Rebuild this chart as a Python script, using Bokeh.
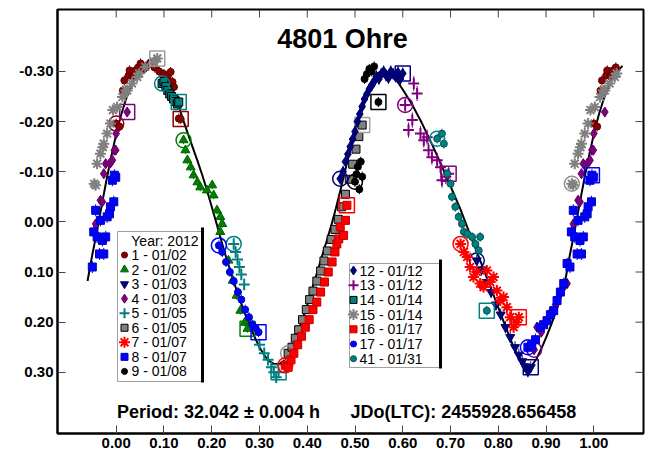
from bokeh.plotting import figure
from bokeh.models import Range1d, LinearAxis, FixedTicker, Label
from bokeh.embed import file_html
from bokeh.resources import INLINE

# ---------------- data ----------------
title_text = "4801 Ohre"
period_text = "Period: 32.042 \u00b1 0.004 h"
epoch_text = "JDo(LTC): 2455928.656458"
year_text = "Year: 2012"

x_ticks = [0.0, 0.1, 0.2, 0.3, 0.4, 0.5, 0.6, 0.7, 0.8, 0.9, 1.0]
x_tick_labels = ["0.00", "0.10", "0.20", "0.30", "0.40", "0.50", "0.60", "0.70", "0.80", "0.90", "1.00"]
y_ticks = [-0.3, -0.2, -0.1, 0.0, 0.1, 0.2, 0.3]
y_tick_labels = ["-0.30", "-0.20", "-0.10", "0.00", "0.10", "0.20", "0.30"]

session_ids = [1, 2, 3, 4, 5, 6, 7, 8, 9, 12, 13, 14, 15, 16, 17, 41]
session_dates = ["01/02", "01/02", "01/03", "01/03", "01/05", "01/05", "01/07", "01/07", "01/08",
                 "01/12", "01/12", "01/14", "01/14", "01/17", "01/17", "01/31"]
session_err = [0.010, 0.008, 0.012, 0.010, 0.012, 0.008, 0.010, 0.012, 0.010,
               0.012, 0.015, 0.010, 0.008, 0.008, 0.010, 0.010]

s1_phase = [0.000, 0.007, 0.014, 0.017, 0.019, 0.026, 0.028, 0.035, 0.040, 0.046, 0.051, 0.058, 0.065, 0.072,
            0.080, 0.090, 0.100, 0.108, 0.114, 0.118, 0.121, 0.126, 0.131, 0.135]
s1_mag = [-0.196, -0.190, -0.262, -0.282, -0.259, -0.292, -0.302, -0.290, -0.302, -0.308, -0.316, -0.305, -0.312,
          -0.318, -0.308, -0.300, -0.295, -0.290, -0.299, -0.279, -0.269, -0.245, -0.206, -0.205]

s2_phase = [0.141, 0.145, 0.149, 0.156, 0.162, 0.170, 0.176, 0.190, 0.201, 0.204, 0.211, 0.218, 0.222, 0.218,
            0.235, 0.244, 0.252, 0.260, 0.269, 0.275]
s2_mag = [-0.163, -0.143, -0.123, -0.109, -0.093, -0.079, -0.069, -0.063, -0.073, -0.053, -0.023, -0.010, 0.004,
          0.020, 0.077, 0.117, 0.147, 0.177, 0.201, 0.213]

s3_phase = [0.755, 0.765, 0.775, 0.785, 0.795, 0.805, 0.815, 0.825, 0.835, 0.843, 0.850, 0.856, 0.862, 0.868]
s3_mag = [0.077, 0.095, 0.120, 0.140, 0.165, 0.185, 0.210, 0.230, 0.250, 0.265, 0.278, 0.288, 0.298, 0.290]

s4_phase = [0.875, 0.881, 0.890, 0.900, 0.910, 0.920, 0.930, 0.937, 0.944, 0.957, 0.960, 0.967, 0.971, 0.974,
            0.978, 0.986, 0.989, 0.992, 0.996, 0.999, 0.000, 0.023]
s4_mag = [0.255, 0.210, 0.220, 0.200, 0.180, 0.165, 0.140, 0.130, 0.123, 0.004, 0.027, -0.043, -0.040, -0.096,
          -0.116, -0.116, -0.119, -0.123, -0.143, -0.143, -0.176, -0.219]

s5_phase = [0.246, 0.250, 0.254, 0.258, 0.262, 0.268, 0.300, 0.310, 0.318, 0.325, 0.330, 0.335, 0.340]
s5_mag = [0.044, 0.060, 0.075, 0.090, 0.105, 0.125, 0.245, 0.262, 0.275, 0.290, 0.300, 0.310, 0.300]

s6_phase = [0.360, 0.368, 0.375, 0.382, 0.390, 0.398, 0.405, 0.412, 0.420, 0.428, 0.435, 0.442, 0.450, 0.458,
            0.465, 0.472, 0.480, 0.488, 0.495, 0.502, 0.508, 0.515]
s6_mag = [0.262, 0.250, 0.232, 0.215, 0.195, 0.175, 0.155, 0.138, 0.118, 0.098, 0.078, 0.058, 0.035, 0.015,
          -0.005, -0.030, -0.055, -0.085, -0.115, -0.145, -0.170, -0.193]

s7_phase = [0.721, 0.728, 0.735, 0.741, 0.748, 0.755, 0.762, 0.769, 0.776, 0.783, 0.790, 0.797, 0.804, 0.811,
            0.818, 0.825, 0.832, 0.838, 0.843]
s7_mag = [0.044, 0.060, 0.070, 0.090, 0.110, 0.100, 0.123, 0.130, 0.097, 0.120, 0.110, 0.137, 0.157, 0.150,
          0.170, 0.190, 0.210, 0.200, 0.190]

s8_phase = [0.862, 0.870, 0.878, 0.888, 0.895, 0.902, 0.909, 0.916, 0.923, 0.930, 0.937, 0.944, 0.950, 0.953,
            0.957, 0.960, 0.965, 0.967, 0.971, 0.974, 0.978, 0.981, 0.986, 0.988, 0.992, 0.995, 0.999, 0.996]
s8_mag = [0.250, 0.245, 0.235, 0.210, 0.205, 0.197, 0.185, 0.177, 0.157, 0.140, 0.123, 0.083, 0.090, 0.020,
          -0.023, 0.030, 0.064, -0.003, 0.037, 0.064, 0.030, -0.010, -0.016, -0.030, -0.083, -0.040, -0.089, -0.093]

s9_phase = [0.500, 0.503, 0.506, 0.509, 0.512, 0.515, 0.520, 0.525, 0.530, 0.535, 0.540, 0.549]
s9_mag = [-0.080, -0.095, -0.110, -0.065, -0.120, -0.090, -0.285, -0.295, -0.305, -0.300, -0.310, -0.239]

s12_phase = [0.469, 0.475, 0.480, 0.485, 0.490, 0.495, 0.500, 0.505, 0.510, 0.515, 0.520, 0.525, 0.530, 0.535,
             0.540, 0.545, 0.550, 0.555, 0.560, 0.565, 0.570, 0.575, 0.580, 0.585, 0.590, 0.595, 0.600]
s12_mag = [-0.086, -0.100, -0.120, -0.135, -0.150, -0.165, -0.180, -0.200, -0.215, -0.230, -0.245, -0.255, -0.265,
           -0.272, -0.280, -0.290, -0.285, -0.295, -0.300, -0.292, -0.287, -0.300, -0.295, -0.290, -0.298, -0.285,
           -0.296]

s13_phase = [0.605, 0.612, 0.620, 0.623, 0.630, 0.637, 0.644, 0.651, 0.654, 0.661, 0.672, 0.679, 0.682, 0.690, 0.696]
s13_mag = [-0.233, -0.183, -0.203, -0.276, -0.256, -0.176, -0.163, -0.169, -0.143, -0.129, -0.123, -0.109, -0.083,
           -0.090, -0.096]

s14_phase = [0.096, 0.100, 0.104, 0.108, 0.112, 0.116, 0.120, 0.124, 0.128, 0.131]
s14_mag = [-0.276, -0.280, -0.270, -0.262, -0.255, -0.250, -0.245, -0.240, -0.235, -0.239]

s15_phase = [0.954, 0.957, 0.960, 0.967, 0.972, 0.974, 0.981, 0.988, 0.993, 0.002, 0.013, 0.020, 0.023, 0.033,
             0.044, 0.048, 0.061, 0.079, 0.086]
s15_mag = [-0.076, -0.073, -0.116, -0.136, -0.149, -0.156, -0.176, -0.196, -0.223, -0.229, -0.249, -0.262, -0.262,
           -0.276, -0.289, -0.296, -0.309, -0.319, -0.326]

s16_phase = [0.354, 0.360, 0.366, 0.372, 0.380, 0.388, 0.396, 0.404, 0.412, 0.420, 0.428, 0.436, 0.444, 0.452,
             0.458, 0.462, 0.466, 0.469, 0.476, 0.480, 0.483]
s16_mag = [0.286, 0.290, 0.275, 0.262, 0.245, 0.228, 0.210, 0.195, 0.175, 0.160, 0.140, 0.120, 0.100, 0.080,
           0.060, 0.044, 0.034, 0.010, 0.027, -0.003, -0.033]

s17_phase = [0.215, 0.222, 0.230, 0.238, 0.246, 0.255, 0.262, 0.270, 0.278, 0.285, 0.292, 0.298]
s17_mag = [0.047, 0.060, 0.080, 0.100, 0.118, 0.140, 0.155, 0.175, 0.190, 0.205, 0.212, 0.220]

s41_phase = [0.672, 0.682, 0.686, 0.693, 0.700, 0.703, 0.710, 0.717, 0.724, 0.728, 0.735, 0.745, 0.752, 0.759,
             0.762, 0.776]
s41_mag = [-0.166, -0.176, -0.156, -0.096, -0.076, -0.050, -0.030, -0.010, 0.004, 0.020, 0.024, 0.030, 0.044,
           0.057, 0.030, 0.177]

fit_phase = [-0.06, -0.05, -0.04, -0.03, -0.02, -0.01, 0.00, 0.01, 0.02, 0.03, 0.04, 0.05, 0.06, 0.07, 0.08, 0.09,
             0.10, 0.11, 0.12, 0.13, 0.14, 0.15, 0.16, 0.17, 0.18, 0.19, 0.20, 0.21, 0.22, 0.23, 0.24, 0.25, 0.26,
             0.27, 0.28, 0.29, 0.30, 0.31, 0.32, 0.33, 0.34, 0.35, 0.36, 0.37, 0.38, 0.39, 0.40, 0.41, 0.42, 0.43,
             0.44, 0.45, 0.46, 0.47, 0.48, 0.49, 0.50, 0.51, 0.52, 0.53, 0.54, 0.55, 0.56, 0.57, 0.58, 0.59, 0.60,
             0.62, 0.64, 0.66, 0.68, 0.70, 0.72, 0.74, 0.76, 0.78, 0.80, 0.81, 0.82, 0.83, 0.84, 0.85, 0.86, 0.87,
             0.88, 0.89, 0.90, 0.91, 0.92, 0.93, 0.94, 0.95, 0.96, 0.97, 0.98, 0.99, 1.00, 1.01, 1.02, 1.03, 1.04,
             1.05, 1.06]
fit_mag = [0.118, 0.065, 0.018, -0.035, -0.085, -0.132, -0.175, -0.212, -0.243, -0.268, -0.287, -0.301, -0.311,
           -0.316, -0.315, -0.306, -0.293, -0.277, -0.257, -0.233, -0.204, -0.176, -0.149, -0.122, -0.094, -0.063,
           -0.030, 0.003, 0.037, 0.070, 0.101, 0.130, 0.158, 0.184, 0.208, 0.230, 0.250, 0.266, 0.277, 0.283,
           0.284, 0.278, 0.265, 0.246, 0.222, 0.195, 0.165, 0.134, 0.103, 0.071, 0.040, 0.008, -0.027, -0.065,
           -0.105, -0.145, -0.183, -0.218, -0.249, -0.273, -0.289, -0.298, -0.301, -0.298, -0.290, -0.278, -0.264,
           -0.233, -0.197, -0.157, -0.115, -0.071, -0.027, 0.023, 0.072, 0.121, 0.171, 0.196, 0.221, 0.245, 0.266,
           0.282, 0.290, 0.287, 0.273, 0.253, 0.231, 0.207, 0.181, 0.153, 0.118, 0.065, 0.018, -0.035, -0.085,
           -0.132, -0.175, -0.212, -0.243, -0.268, -0.287, -0.301, -0.311]

session_phase = [s1_phase, s2_phase, s3_phase, s4_phase, s5_phase, s6_phase, s7_phase, s8_phase, s9_phase,
                 s12_phase, s13_phase, s14_phase, s15_phase, s16_phase, s17_phase, s41_phase]
session_mag = [s1_mag, s2_mag, s3_mag, s4_mag, s5_mag, s6_mag, s7_mag, s8_mag, s9_mag,
               s12_mag, s13_mag, s14_mag, s15_mag, s16_mag, s17_mag, s41_mag]

# ---------------- styles ----------------
styles = {
    1: dict(marker="circle", fill="#8B0000", line="#5a0000", size=7),
    2: dict(marker="triangle", fill="#008000", line="#006000", size=9),
    3: dict(marker="inverted_triangle", fill="#000080", line="#000060", size=9),
    4: dict(marker="diamond", fill="#800080", line="#600060", size=10),
    5: dict(marker="cross", fill="#008080", line="#008080", size=11),
    6: dict(marker="square", fill="#808080", line="#000000", size=8),
    7: dict(marker="asterisk", fill="#FF0000", line="#FF0000", size=11),
    8: dict(marker="square", fill="#0000FF", line="#0000c0", size=8),
    9: dict(marker="circle", fill="#000000", line="#000000", size=7),
    12: dict(marker="diamond", fill="#000080", line="#000060", size=10),
    13: dict(marker="cross", fill="#800080", line="#800080", size=11),
    14: dict(marker="square", fill="#008080", line="#000000", size=8),
    15: dict(marker="asterisk", fill="#808080", line="#808080", size=11),
    16: dict(marker="square", fill="#FF0000", line="#c00000", size=8),
    17: dict(marker="circle", fill="#0000FF", line="#0000c0", size=7),
    41: dict(marker="circle", fill="#008080", line="#005050", size=7),
}

FONT = "Liberation Sans"
TICK_COLOR = "#444444"

x_start, x_end = -0.1229, 1.104
y_bottom, y_top = 0.422, -0.4235
FRAME_L, FRAME_R, FRAME_T, FRAME_B = 57, 643, 9, 433
x_per_px = (x_end - x_start) / (FRAME_R - FRAME_L)
y_per_px = (y_bottom - y_top) / (FRAME_B - FRAME_T)

p = figure(width=649, height=454, output_backend="svg", toolbar_location=None,
           x_range=Range1d(x_start, x_end), y_range=Range1d(y_bottom, y_top),
           x_axis_type=None, y_axis_type=None,
           min_border_left=FRAME_L, min_border_right=649 - FRAME_R, min_border_top=FRAME_T,
           min_border_bottom=454 - FRAME_B)
p.outline_line_color = "black"
p.outline_line_width = 2
p.xgrid.visible = False
p.ygrid.visible = False
p.background_fill_color = "white"
p.border_fill_color = "white"


def make_axis(ticks, labels, standoff):
    ax = LinearAxis(ticker=FixedTicker(ticks=ticks),
                    major_label_overrides={t: l for t, l in zip(ticks, labels)})
    ax.axis_line_width = 2
    ax.axis_line_color = "#000000"
    ax.major_tick_in = 8
    ax.major_tick_out = 0
    ax.major_tick_line_color = TICK_COLOR
    ax.major_tick_line_width = 1
    ax.minor_tick_line_color = None
    ax.major_label_text_font = FONT
    ax.major_label_text_font_style = "bold"
    ax.major_label_text_color = "#000000"
    ax.major_label_text_font_size = "15px"
    ax.major_label_standoff = standoff
    return ax


p.add_layout(make_axis(x_ticks, x_tick_labels, 4), "below")
p.add_layout(make_axis(y_ticks, y_tick_labels, 4), "left")

# inward ticks on the top and right frame edges (no labels)
p.segment(x_ticks, [y_top] * len(x_ticks), x_ticks, [y_top + 8 * y_per_px] * len(x_ticks),
          line_color=TICK_COLOR, line_width=1)
p.segment([x_end] * len(y_ticks), y_ticks, [x_end - 8 * x_per_px] * len(y_ticks), y_ticks,
          line_color=TICK_COLOR, line_width=1)

# fitted curve
p.line(fit_phase, fit_mag, line_color="black", line_width=2)


def wrap(ph, mg):
    xs, ys = [], []
    for a, b in zip(ph, mg):
        xs.append(a)
        ys.append(b)
        if a >= 0.945:
            xs.append(a - 1.0)
            ys.append(b)
        if a <= 0.05:
            xs.append(a + 1.0)
            ys.append(b)
    return xs, ys


for sid, ph, mg, err in zip(session_ids, session_phase, session_mag, session_err):
    st = styles[sid]
    xs, ys = wrap(ph, mg)
    p.segment(xs, [y - err for y in ys], xs, [y + err for y in ys], line_color=st["fill"], line_width=1)
    lw = 2 if st["marker"] in ("cross", "asterisk") else 1
    p.scatter(xs, ys, marker=st["marker"], size=st["size"], fill_color=st["fill"],
              line_color=st["line"], line_width=lw)
    # first point: open circle, last point: open square
    p.scatter([ph[0]], [mg[0]], marker="circle", size=15, fill_color=None,
              line_color=st["fill"] if sid not in (6, 15) else "#909090", line_width=1.5)
    p.scatter([ph[-1]], [mg[-1]], marker="square", size=15, fill_color=None,
              line_color=st["fill"] if sid not in (6, 15) else "#a0a0a0", line_width=1.5)


# ---------------- legends ----------------
def px_to_x(px):
    return x_start + (px - FRAME_L) * x_per_px


def py_to_y(py):
    return y_top + (py - FRAME_T) * y_per_px


def legend_box(x0, x1, y0, y1, entries, item_y0, dy, marker_x, text_x):
    p.quad(left=px_to_x(x0), right=px_to_x(x1), top=py_to_y(y0), bottom=py_to_y(y1),
           fill_color="white", line_color="#a0a0a0", line_width=1)
    p.segment(px_to_x(x1), py_to_y(y0 - 4), px_to_x(x1), py_to_y(y1 + 1), line_color="black", line_width=3)
    for i, (sid, date) in enumerate(entries):
        st = styles[sid]
        yc = py_to_y(item_y0 + i * dy)
        lw = 2 if st["marker"] in ("cross", "asterisk") else 1
        sz = st["size"] - 1 if st["marker"] != "asterisk" else st["size"]
        p.scatter([px_to_x(marker_x)], [yc], marker=st["marker"], size=sz, fill_color=st["fill"],
                  line_color=st["line"], line_width=lw)
        p.add_layout(Label(x=px_to_x(text_x), y=yc, text=f"{sid} - {date}", text_font=FONT,
                           text_font_size="14px", text_baseline="middle", text_align="left",
                           text_color="black"))


entries1 = list(zip(session_ids[:9], session_dates[:9]))
entries2 = list(zip(session_ids[9:], session_dates[9:]))
legend_box(117, 202, 231, 381, entries1, 254.5, 14.55, 124, 131)
p.add_layout(Label(x=px_to_x(198), y=py_to_y(240), text=year_text, text_font=FONT, text_font_size="14px",
                   text_baseline="middle", text_align="right", text_color="black"))
legend_box(349, 440, 263, 367, entries2, 270, 14.7, 353, 359)

# ---------------- texts ----------------
p.add_layout(Label(x=px_to_x(342), y=py_to_y(38.5), text=title_text, text_font=FONT, text_font_size="27px",
                   text_font_style="bold", text_align="center", text_baseline="middle", text_color="black"))
p.add_layout(Label(x=px_to_x(116.5), y=py_to_y(411), text=period_text, text_font=FONT, text_font_size="18px",
                   text_font_style="bold", text_align="left", text_baseline="middle", text_color="black"))
p.add_layout(Label(x=px_to_x(350), y=py_to_y(411), text=epoch_text, text_font=FONT, text_font_size="18px",
                   text_font_style="bold", text_align="left", text_baseline="middle", text_color="black"))

open("out.html", "w").write(file_html(p, INLINE))
